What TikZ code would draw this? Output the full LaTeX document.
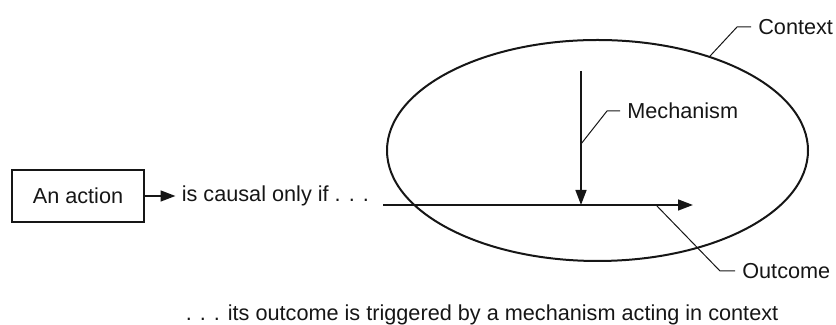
\documentclass[tikz,border=0pt]{standalone}
\usepackage{fontspec}
\setmainfont{Liberation Sans}
\usepackage{tikz}
\usetikzlibrary{arrows.meta,positioning,shapes.geometric,calc}
\definecolor{inkblack}{RGB}{22,22,22}

\begin{document}
\begin{tikzpicture}[x=0.6pt, y=0.6pt, every node/.style={font=\fontsize{13}{15}\selectfont, text=inkblack},
  mainline/.style={line width=1.2pt, draw=inkblack},
  leader/.style={line width=0.6pt, draw=inkblack},
  tip/.style={-{Triangle[length=9pt,width=6.5pt]}},
  lbl/.style={anchor=west, inner sep=4.2pt}]
  \useasboundingbox (0,0) rectangle (836,325);
  % context
  \node[mainline, ellipse, minimum width=252.6pt, minimum height=132.6pt, inner sep=0] (context) at (597.5,174.5) {};
  % action
  \node[mainline, minimum width=79pt, minimum height=31pt] (action) at (78,129) {An action};
  \node[right=22pt of action, inner sep=0] (causal) {is causal only if . . .};
  \draw[mainline, tip] (action.east) -- ([xshift=-3.6pt]causal.west);
  % path to outcome
  \coordinate (pathstart) at (383,120);
  \coordinate (pathend) at (693,120);
  \draw[mainline, tip] (pathstart) -- (pathend);
  % mechanism
  \coordinate (mechtop) at (581,254);
  \draw[mainline, tip] (mechtop) -- (mechtop |- pathstart);
  % labels
  \node[lbl] (ctxlbl) at (751,298) {Context};
  \draw[leader] (context.40) -- ($(ctxlbl.west)+(-14,0)$) -- (ctxlbl.west);
  \node[lbl] (mechlbl) at (620,214) {Mechanism};
  \coordinate (mechfoot) at (581,181);
  \draw[leader] (mechfoot) -- ($(mechlbl.west)+(-13,0)$) -- (mechlbl.west);
  \node[lbl] (outlbl) at (735,54) {Outcome};
  \coordinate (outfoot) at (656,120);
  \draw[leader] (outfoot) -- ($(outlbl.west)+(-15,0)$) -- (outlbl.west);
  % caption
  \node (caption) at (482,10) {. . . its outcome is triggered by a mechanism acting in context};
\end{tikzpicture}
\end{document}
